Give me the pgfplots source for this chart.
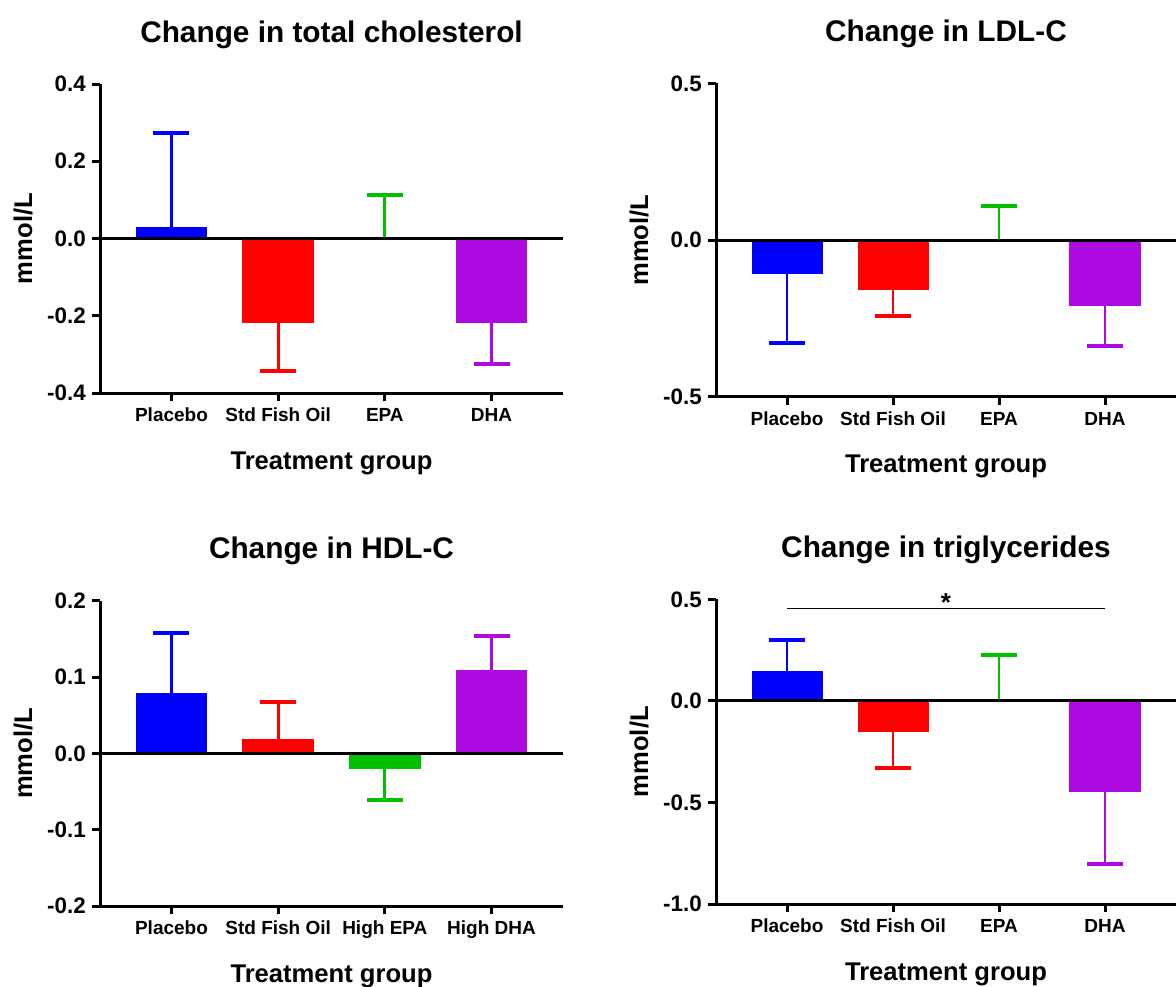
\documentclass[border=0pt]{standalone}
\usepackage{fontspec}
\setmainfont{Liberation Sans}
\usepackage{pgfplots}
\pgfplotsset{compat=1.18}

\definecolor{pblue}{RGB}{0,0,255}
\definecolor{pred}{RGB}{255,0,0}
\definecolor{pgreen}{RGB}{0,192,0}
\definecolor{ppurple}{RGB}{172,10,224}

\pgfplotsset{
  panel/.style={
    scale only axis,
    anchor=south west,
    axis lines*=left,
    axis line style={line width=1.5pt, black},
    clip=false,
    xmin=-0.67, xmax=3.67,
    xtick={0,1,2,3},
    major tick length=4.2pt,
    tick align=outside,
    tick style={line width=1.5pt, black},
    yticklabel style={font=\bfseries\fontsize{11.2}{13}\selectfont, anchor=east, inner sep=0pt, xshift=-2.7pt},
    xticklabel style={font=\bfseries\fontsize{9.5}{11}\selectfont, anchor=base, inner sep=0pt, yshift=-10pt},
    title style={font=\bfseries\fontsize{14.9}{17}\selectfont, at={(0.5,1)}, anchor=base, inner sep=0pt, yshift=15pt},
    xlabel style={font=\bfseries\fontsize{12.8}{15}\selectfont, at={(0.5,0)}, anchor=base, inner sep=0pt, yshift=-38pt},
    every axis y label/.style={font=\bfseries\fontsize{12.8}{15}\selectfont, at={(0,0.5)}, xshift=-38.5pt, rotate=90, anchor=center, inner sep=0pt},
    xlabel={Treatment group},
    ylabel={mmol/L},
  },
  barp/.style 2 args={
    ybar, bar width=0.67, bar shift=0pt, fill=#1, draw=none,
    error bars/.cd, y dir=#2, y explicit,
    error mark=|,
    error bar style={line width=1.4pt, draw=#1},
    error mark options={line width=2pt, mark size=9pt, draw=#1},
  },
  zeroline/.style={black, line width=1.5pt, no marks, forget plot},
}

\begin{document}
\begin{tikzpicture}
\useasboundingbox (0,0) rectangle (588pt,493pt);

% Total cholesterol
\begin{axis}[panel, at={(50pt,296.5pt)}, width=231.5pt, height=154.5pt,
  ymin=-0.4, ymax=0.4,
  ytick={-0.4,-0.2,0,0.2,0.4}, yticklabels={-0.4,-0.2,0.0,0.2,0.4},
  xticklabels={Placebo,Std Fish Oil,EPA,DHA},
  title={Change in total cholesterol}]
\addplot[barp={pblue}{plus}]     coordinates {(0,0.03) +- (0,0.242)};
\addplot[barp={pred}{minus}]     coordinates {(1,-0.22) +- (0,0.124)};
\addplot[barp={pgreen}{plus}]    coordinates {(2,0) +- (0,0.113)};
\addplot[barp={ppurple}{minus}]  coordinates {(3,-0.22) +- (0,0.106)};
\addplot[zeroline] coordinates {(-0.67,0) (3.67,0)};
\end{axis}

% LDL-C
\begin{axis}[panel, at={(358pt,294.65pt)}, width=230pt, height=156.7pt,
  ymin=-0.5, ymax=0.5,
  ytick={-0.5,0,0.5}, yticklabels={-0.5,0.0,0.5},
  xticklabels={Placebo,Std Fish Oil,EPA,DHA},
  title={Change in LDL-C}]
\addplot[barp={pblue}{minus}]    coordinates {(0,-0.11) +- (0,0.218)};
\addplot[barp={pred}{minus}]     coordinates {(1,-0.16) +- (0,0.081)};
\addplot[barp={pgreen}{plus}]    coordinates {(2,0) +- (0,0.109)};
\addplot[barp={ppurple}{minus}]  coordinates {(3,-0.211) +- (0,0.128)};
\addplot[zeroline] coordinates {(-0.67,0) (3.67,0)};
\end{axis}

% HDL-C
\begin{axis}[panel, at={(50pt,40pt)}, width=231.5pt, height=152.65pt,
  ymin=-0.2, ymax=0.2,
  ytick={-0.2,-0.1,0,0.1,0.2}, yticklabels={-0.2,-0.1,0.0,0.1,0.2},
  xticklabels={Placebo,Std Fish Oil,High EPA,High DHA},
  title={Change in HDL-C}]
\addplot[barp={pblue}{plus}]     coordinates {(0,0.079) +- (0,0.079)};
\addplot[barp={pred}{plus}]      coordinates {(1,0.019) +- (0,0.048)};
\addplot[barp={pgreen}{minus}]   coordinates {(2,-0.02) +- (0,0.041)};
\addplot[barp={ppurple}{plus}]   coordinates {(3,0.109) +- (0,0.045)};
\addplot[zeroline] coordinates {(-0.67,0) (3.67,0)};
\end{axis}

% Triglycerides
\begin{axis}[panel, at={(358pt,41pt)}, width=230pt, height=152.35pt,
  ymin=-1, ymax=0.5,
  ytick={-1,-0.5,0,0.5}, yticklabels={-1.0,-0.5,0.0,0.5},
  xticklabels={Placebo,Std Fish Oil,EPA,DHA},
  title={Change in triglycerides}]
\addplot[barp={pblue}{plus}]     coordinates {(0,0.146) +- (0,0.154)};
\addplot[barp={pred}{minus}]     coordinates {(1,-0.151) +- (0,0.177)};
\addplot[barp={pgreen}{plus}]    coordinates {(2,0) +- (0,0.225)};
\addplot[barp={ppurple}{minus}]  coordinates {(3,-0.449) +- (0,0.354)};
\addplot[zeroline] coordinates {(-0.67,0) (3.67,0)};
% significance bracket Placebo vs DHA
\addplot[black, line width=0.75pt, no marks, forget plot] coordinates {(0,0.454) (3,0.454)};
\node[font=\bfseries\fontsize{13}{15}\selectfont, anchor=base, inner sep=0pt, yshift=-1.5pt] at (axis cs:1.5,0.454) {*};
\end{axis}
\end{tikzpicture}
\end{document}
